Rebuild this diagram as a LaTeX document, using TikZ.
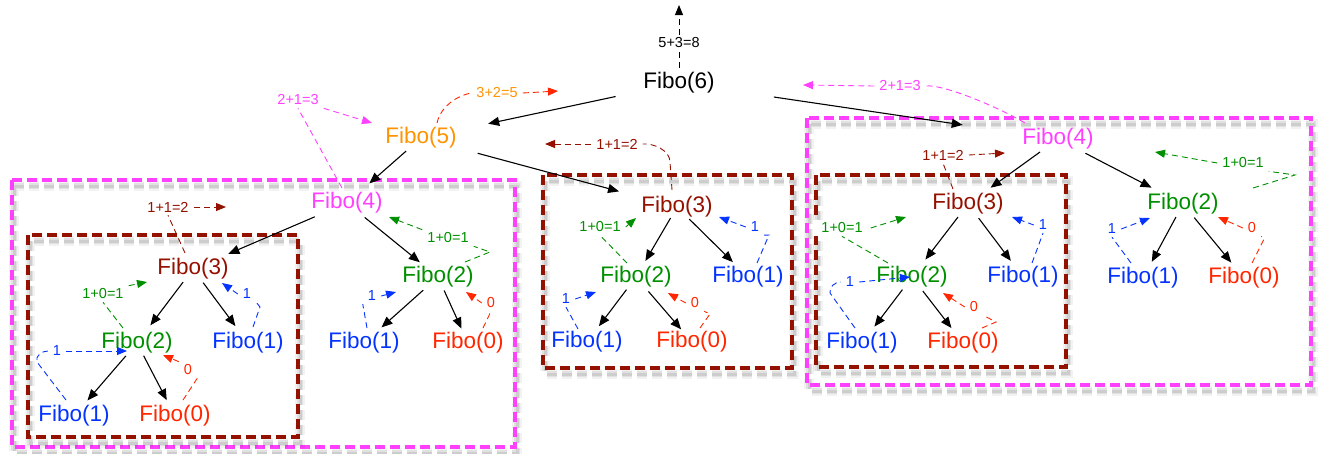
\documentclass[tikz,border=0pt]{standalone}
\usepackage{fontspec}
\setmainfont{Liberation Sans}
\usetikzlibrary{arrows.meta}
\definecolor{cMag}{HTML}{FF40FF}
\definecolor{cDred}{HTML}{941100}
\definecolor{cGrn}{HTML}{008F00}
\definecolor{cBlu}{HTML}{0433FF}
\definecolor{cRed}{HTML}{FF2600}
\definecolor{cOra}{HTML}{FF9300}
\newcommand\fibofont{\fontsize{22.5}{25}\selectfont}
\newcommand\lblfont{\fontsize{14.5}{16}\selectfont}
\begin{document}
\begin{tikzpicture}[x=1pt,y=-1pt,
  fibo/.style={font=\fibofont, inner sep=1pt},
  lbl/.style={font=\lblfont, fill=white, inner xsep=5pt, inner ysep=3pt},
  arr/.style={line width=1.1pt, -{Triangle[length=11pt,width=9pt]}},
  sh/.style 2 args={shorten <=#1pt, shorten >=#2pt},
  rline/.style={line width=0.9pt, dash pattern=on 6pt off 4pt},
  rarrow/.style={rline, -{Triangle[length=10pt,width=8pt]}},
  boxline/.style={line width=3.2pt, dash pattern=on 10pt off 5pt},
  boxshade/.style={draw=black, line width=10pt, opacity=0.05, dash pattern=on 10pt off 5pt},
  boxshadeb/.style={draw=black, line width=6pt, opacity=0.07, dash pattern=on 10pt off 5pt},
  boxshadec/.style={draw=black, line width=3pt, opacity=0.09, dash pattern=on 10pt off 5pt}]
\useasboundingbox (0,0) rectangle (1324,453);

% frames
\foreach \a/\b/\c/\d/\col in {12/180/515/447/cMag, 28/235/298/437/cDred, 543/175/792/368/cDred, 807/118/1311/385/cMag, 816/175/1066/367/cDred} {
  \draw[boxshade] (\a+2,\b+6) rectangle (\c+2,\d+6);
  \draw[boxshadeb] (\a+2,\b+6) rectangle (\c+2,\d+6);
  \draw[boxshadec] (\a+2,\b+6) rectangle (\c+2,\d+6);
  \draw[boxline, draw=\col] (\a,\b) rectangle (\c,\d);
}

% Fibo nodes
\node[fibo] (f6) at (679,83) {Fibo(6)};
\node[fibo, text=cOra] (f5) at (421,138) {Fibo(5)};
\node[fibo, text=cMag] (L4) at (347,203) {Fibo(4)};
\node[fibo, text=cDred] (L3) at (193,269) {Fibo(3)};
\node[fibo, text=cGrn] (L2a) at (137,343) {Fibo(2)};
\node[fibo, text=cBlu] (L1a) at (248,343) {Fibo(1)};
\node[fibo, text=cBlu] (L1b) at (74,416) {Fibo(1)};
\node[fibo, text=cRed] (L0b) at (175,416) {Fibo(0)};
\node[fibo, text=cGrn] (L2) at (438,277) {Fibo(2)};
\node[fibo, text=cBlu] (L1c) at (364,343) {Fibo(1)};
\node[fibo, text=cRed] (L0c) at (468,343) {Fibo(0)};
\node[fibo, text=cDred] (M3) at (677,207) {Fibo(3)};
\node[fibo, text=cGrn] (M2) at (636,277) {Fibo(2)};
\node[fibo, text=cBlu] (M1a) at (748,277) {Fibo(1)};
\node[fibo, text=cBlu] (M1b) at (587,342) {Fibo(1)};
\node[fibo, text=cRed] (M0b) at (692,342) {Fibo(0)};
\node[fibo, text=cMag] (R4) at (1058,139) {Fibo(4)};
\node[fibo, text=cDred] (R3) at (968,204) {Fibo(3)};
\node[fibo, text=cGrn] (R2a) at (912,277) {Fibo(2)};
\node[fibo, text=cBlu] (R1a) at (1023,277) {Fibo(1)};
\node[fibo, text=cBlu] (R1b) at (862,343) {Fibo(1)};
\node[fibo, text=cRed] (R0b) at (963,343) {Fibo(0)};
\node[fibo, text=cGrn] (R2) at (1183,204) {Fibo(2)};
\node[fibo, text=cBlu] (R1c) at (1143,278) {Fibo(1)};
\node[fibo, text=cRed] (R0c) at (1244,278) {Fibo(0)};

% labels
\node[lbl] (t8) at (679,43) {5+3=8};
\node[lbl, text=cOra] (t5) at (497,93) {3+2=5};
\node[lbl, text=cMag] (t3) at (298,100) {2+1=3};
\node[lbl, text=cDred] (l4) at (617,144) {1+1=2};
\node[lbl, text=cMag] (r3) at (900,86) {2+1=3};
\node[lbl, text=cDred] (l6) at (168,207) {1+1=2};
\node[lbl, text=cGrn] (l7) at (103,294) {1+0=1};
\node[lbl, text=cBlu] (l8) at (247,294) {1};
\node[lbl, text=cBlu] (l9) at (57,351) {1};
\node[lbl, text=cRed] (l10) at (188,370) {0};
\node[lbl, text=cGrn] (l11) at (448,238) {1+0=1};
\node[lbl, text=cBlu] (l12) at (372,296) {1};
\node[lbl, text=cRed] (l13) at (491,303) {0};
\node[lbl, text=cGrn] (l14) at (600,227) {1+0=1};
\node[lbl, text=cBlu] (l15) at (755,227) {1};
\node[lbl, text=cBlu] (l16) at (566,299) {1};
\node[lbl, text=cRed] (l17) at (695,303) {0};
\node[lbl, text=cDred] (l18) at (943,155) {1+1=2};
\node[lbl, text=cGrn, inner xsep=8pt] (l19) at (842,228) {1+0=1};
\node[lbl, text=cBlu] (l20) at (1043,225) {1};
\node[lbl, text=cBlu] (l21) at (850,282) {1};
\node[lbl, text=cRed] (l22) at (974,307) {0};
\node[lbl, text=cGrn] (l23) at (1243,163) {1+0=1};
\node[lbl, text=cBlu] (l24) at (1112,229) {1};
\node[lbl, text=cRed] (l25) at (1252,228) {0};
\coordinate (up) at (679,5);

% call arrows
\draw[arr, sh={64.8}{68.7}] (f6.center) -- (f5.center);
\draw[arr, sh={95.9}{96.3}] (f6.center) -- (R4.center);
\draw[arr, sh={19.8}{29.7}] (f5.center) -- (L4.center);
\draw[arr, sh={58.7}{60}] (f5.center) -- (M3.center);
\draw[arr, sh={35}{38.5}] (L4.center) -- (L3.center);
\draw[arr, sh={22.8}{23.4}] (L4.center) -- (L2.center);
\draw[arr, sh={16.4}{22.2}] (L3.center) -- (L2a.center);
\draw[arr, sh={17}{21.1}] (L3.center) -- (L1a.center);
\draw[arr, sh={17}{20.6}] (L2a.center) -- (L1b.center);
\draw[arr, sh={14.4}{17.9}] (L2a.center) -- (L0b.center);
\draw[arr, sh={19.8}{23.4}] (L2.center) -- (L1c.center);
\draw[arr, sh={14.8}{15.8}] (L2.center) -- (L0c.center);
\draw[arr, sh={12.8}{18.6}] (M3.center) -- (M2.center);
\draw[arr, sh={17.2}{21.2}] (M3.center) -- (M1a.center);
\draw[arr, sh={15.8}{19.8}] (M2.center) -- (M1b.center);
\draw[arr, sh={19.1}{16.6}] (M2.center) -- (M0b.center);
\draw[arr, sh={22.2}{27.8}] (R4.center) -- (R3.center);
\draw[arr, sh={30.9}{35.4}] (R4.center) -- (R2.center);
\draw[arr, sh={16.4}{22}] (R3.center) -- (R2a.center);
\draw[arr, sh={17.7}{20.2}] (R3.center) -- (R1a.center);
\draw[arr, sh={15.8}{20.6}] (R2a.center) -- (R1b.center);
\draw[arr, sh={17.7}{18.9}] (R2a.center) -- (R0b.center);
\draw[arr, sh={14.8}{18.4}] (R2.center) -- (R1c.center);
\draw[arr, sh={17.7}{20}] (R2.center) -- (R0c.center);

% return paths
\draw[rline] ([shift={(0,-15)}]f6.center) -- (t8.south);
\draw[rarrow] (t8.north) -- (up);
\draw[rline, cRed] ([shift={(16,-15)}]f5.center) .. controls +(4,-18) and +(-12,2) .. (t5.west);
\draw[rarrow, cRed] (t5.east) -- ([shift={(-121,8)}]f6.center);
\draw[rline, cMag] ([shift={(-5,-15)}]L4.center) -- (t3.south);
\draw[rarrow, cMag] (t3.south east) -- ([shift={(-49,-15)}]f5.center);
\draw[rline, cDred] ([shift={(-5,-17)}]M3.center) -- ++(-2,-28) .. controls +(0,-12) and +(10,-1) .. (l4.east);
\draw[rarrow, cDred] (l4.west) -- ([shift={(124,6)}]f5.center);
\draw[rline, cMag] ([shift={(-33,-16)}]R4.center) .. controls +(-25,-15) and +(18,-2) .. (r3.east);
\draw[rarrow, cMag] (r3.west) -- ([shift={(124,2)}]f6.center);

\draw[rline, cDred] ([shift={(-8,-16)}]L3.center) -- (l6.south);
\draw[rarrow, cDred] (l6.east) -- ([shift={(-121,4)}]L4.center);
\draw[rline, cGrn] ([shift={(-14,-15)}]L2a.center) -- (l7.south);
\draw[rarrow, cGrn] (l7.north east) -- ([shift={(-46,13)}]L3.center);
\draw[rline, cBlu] ([shift={(5,-16)}]L1a.center) -- ++(7,-20) -- (l8.south east);
\draw[rarrow, cBlu] (l8.west) -- ([shift={(29,14)}]L3.center);
\draw[rline, cBlu] ([shift={(-8,-16)}]L1b.center) -- ++(-29,-38) .. controls +(-2,-6) and +(-6,0) .. (l9.west);
\draw[rarrow, cBlu] (l9.east) -- ([shift={(-10,8)}]L2a.center);
\draw[rline, cRed] ([shift={(8,-16)}]L0b.center) -- (l10.south east);
\draw[rarrow, cRed] (l10.north west) -- ([shift={(26,12)}]L2a.center);
\draw[rline, cGrn] ([shift={(27,-15)}]L2.center) -- ++(25,-10) -- (l11.south east);
\draw[rarrow, cGrn] (l11.north west) -- ([shift={(42,14)}]L4.center);
\draw[rline, cBlu] ([shift={(3,-15)}]L1c.center) -- (l12.south west);
\draw[rarrow, cBlu] (l12.east) -- ([shift={(-42,15)}]L2.center);
\draw[rline, cRed] ([shift={(15,-15)}]L0c.center) -- (l13.south);
\draw[rarrow, cRed] (l13.west) -- ([shift={(28,15)}]L2.center);

\draw[rline, cGrn] ([shift={(-9,-14)}]M2.center) -- (l14.south);
\draw[rarrow, cGrn] (l14.east) -- ([shift={(-41,11)}]M3.center);
\draw[rline, cBlu] ([shift={(9,-14)}]M1a.center) -- ++(12,-28) -- (l15.south east);
\draw[rarrow, cBlu] (l15.west) -- ([shift={(42,10)}]M3.center);
\draw[rline, cBlu] ([shift={(-9,-13)}]M1b.center) -- (l16.south);
\draw[rarrow, cBlu] (l16.east) -- ([shift={(-40,15)}]M2.center);
\draw[rline, cRed] ([shift={(8,-14)}]M0b.center) -- ++(10,-14) -- (l17.south east);
\draw[rarrow, cRed] (l17.west) -- ([shift={(32,16)}]M2.center);

\draw[rline, cDred] ([shift={(-15,-15)}]R3.center) -- (l18.south);
\draw[rarrow, cDred] (l18.east) -- ([shift={(-53,14)}]R4.center);
\draw[rline, cGrn] ([shift={(-24,-14)}]R2a.center) -- (l19.south);
\draw[rarrow, cGrn] (l19.east) -- ([shift={(-62,13)}]R3.center);
\draw[rline, cBlu] ([shift={(9,-14)}]R1a.center) -- (l20.south);
\draw[rarrow, cBlu] (l20.west) -- ([shift={(44,13)}]R3.center);
\draw[rline, cBlu] ([shift={(-7,-15)}]R1b.center) -- ++(-25,-35) .. controls +(-1,-6) and +(-6,0) .. (l21.west);
\draw[rarrow, cBlu] (l21.east) -- ([shift={(-2,0)}]R2a.center);
\draw[rline, cRed] ([shift={(19,-15)}]R0b.center) -- ++(14,-6) -- (l22.south east);
\draw[rarrow, cRed] (l22.west) -- ([shift={(31,16)}]R2a.center);
\draw[rline, cGrn] ([shift={(70,-16)}]R2.center) -- ++(42,-13) -- (l23.south east);
\draw[rarrow, cGrn] (l23.west) -- ([shift={(97,13)}]R4.center);
\draw[rline, cBlu] ([shift={(-12,-15)}]R1c.center) -- (l24.south);
\draw[rarrow, cBlu] (l24.east) -- ([shift={(-33,14)}]R2.center);
\draw[rline, cRed] ([shift={(8,-15)}]R0c.center) -- ++(12,-24) -- (l25.south east);
\draw[rarrow, cRed] (l25.west) -- ([shift={(35,13)}]R2.center);
\end{tikzpicture}
\end{document}
